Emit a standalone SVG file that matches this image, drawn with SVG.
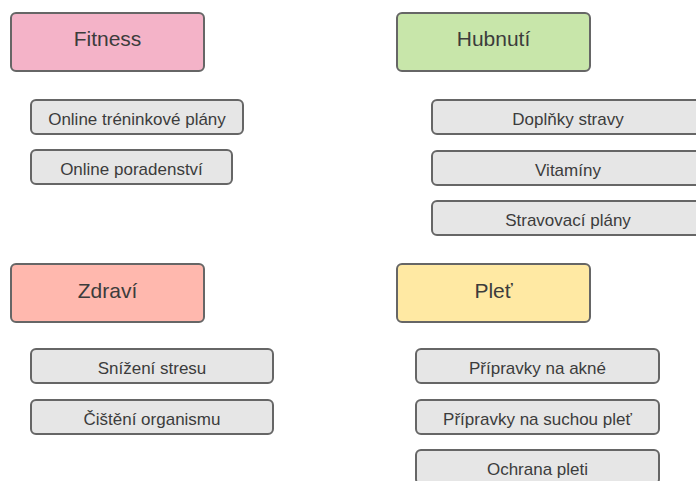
<svg xmlns="http://www.w3.org/2000/svg" width="696" height="481" viewBox="0 0 696 481">
<style>
.h rect{stroke:#666;stroke-width:2}
.i rect{fill:#e6e6e6;stroke:#666;stroke-width:2}
text{font-family:"Liberation Sans",Arial,sans-serif;fill:#3c3c3c;text-anchor:middle}
.h text{font-size:21px}
.i text{font-size:17px}
</style>
<rect width="696" height="481" fill="#fff"/>
<g id="fitness" class="h"><rect x="11" y="13" width="193" height="58" rx="5" fill="#f4b3c8"/><text x="107.5" y="46">Fitness</text></g>
<g id="hubnuti" class="h"><rect x="397" y="13" width="193" height="58" rx="5" fill="#c8e6aa"/><text x="493.5" y="46">Hubnutí</text></g>
<g id="zdravi" class="h"><rect x="11" y="264" width="193" height="58" rx="5" fill="#ffb8ae"/><text x="107.5" y="298">Zdraví</text></g>
<g id="plet" class="h"><rect x="397" y="264" width="193" height="58" rx="5" fill="#ffe9a3"/><text x="493.5" y="298">Pleť</text></g>
<g id="online-treninkove-plany" class="i"><rect x="31" y="100" width="212" height="34" rx="5"/><text x="137" y="125">Online tréninkové plány</text></g>
<g id="online-poradenstvi" class="i"><rect x="31" y="150" width="201" height="34" rx="5"/><text x="131.5" y="175">Online poradenství</text></g>
<g id="doplnky-stravy" class="i"><rect x="432" y="100" width="272" height="34" rx="5"/><text x="568" y="125">Doplňky stravy</text></g>
<g id="vitaminy" class="i"><rect x="432" y="151" width="272" height="34" rx="5"/><text x="568" y="176">Vitamíny</text></g>
<g id="stravovaci-plany" class="i"><rect x="432" y="201" width="272" height="34" rx="5"/><text x="568" y="226">Stravovací plány</text></g>
<g id="snizeni-stresu" class="i"><rect x="31" y="349" width="242" height="34" rx="5"/><text x="152" y="374">Snížení stresu</text></g>
<g id="cisteni-organismu" class="i"><rect x="31" y="400" width="242" height="34" rx="5"/><text x="152" y="425">Čištění organismu</text></g>
<g id="pripravky-akne" class="i"><rect x="416" y="349" width="243" height="34" rx="5"/><text x="537.5" y="374">Přípravky na akné</text></g>
<g id="pripravky-sucha-plet" class="i"><rect x="416" y="400" width="243" height="34" rx="5"/><text x="537.5" y="425">Přípravky na suchou pleť</text></g>
<g id="ochrana-pleti" class="i"><rect x="416" y="450" width="243" height="34" rx="5"/><text x="537.5" y="475">Ochrana pleti</text></g>
<g id="connectors"/>
</svg>
